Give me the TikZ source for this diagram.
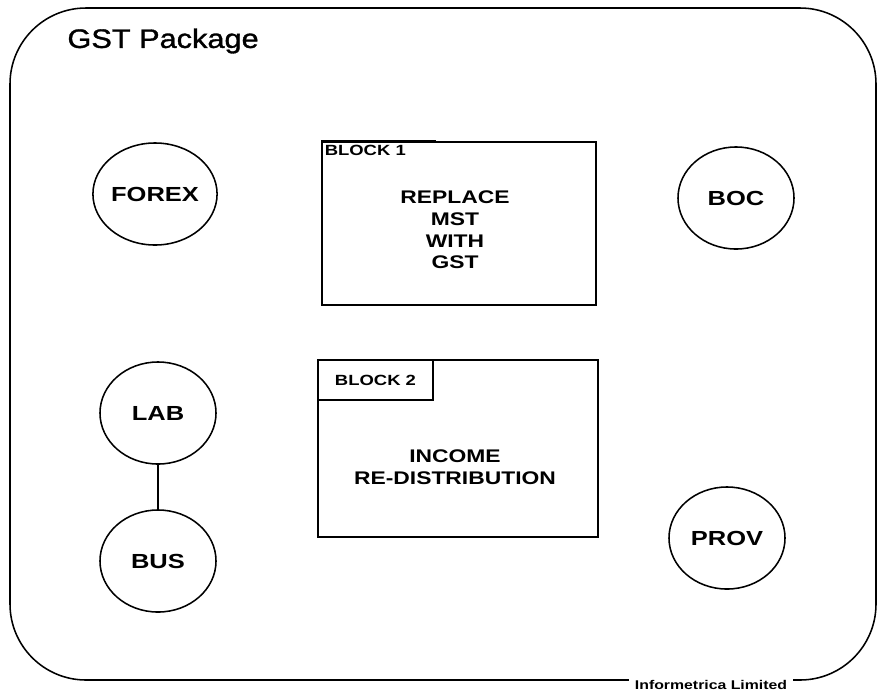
\documentclass[tikz,border=0pt]{standalone}
\usepackage{fontspec}
\setmainfont{Liberation Sans}
\newfontfamily\widefont[FakeStretch=1.25]{Liberation Sans}
\newfontfamily\titlefont[FakeStretch=1.15, FakeBold=1.2]{Liberation Sans}
\usetikzlibrary{shapes.geometric}
\usetikzlibrary{positioning}

\begin{document}
\begin{tikzpicture}[x=0.025cm, y=-0.025cm, line width=1.1pt,
    party/.style={ellipse, draw, minimum width=2.9cm, minimum height=2.55cm, inner sep=0pt,
      font=\widefont\bfseries\fontsize{14.5}{16}\selectfont},
    blockbox/.style={draw, rectangle, inner sep=0pt},
    blocktag/.style={inner sep=2pt, font=\widefont\bfseries\fontsize{10.5}{12}\selectfont},
    blocktext/.style={align=center, font=\widefont\bfseries\fontsize{13}{15.5}\selectfont}]
      \useasboundingbox (0,0) rectangle (880,693);
      \draw[rounded corners=1.9cm] (10,8) rectangle (876,680);
      \node[font=\titlefont\fontsize{19}{22}\selectfont, anchor=west] (title) at (62,41) {GST Package};
      \node[fill=white, inner xsep=4pt, inner ysep=1pt, font=\widefont\bfseries\fontsize{9}{10}\selectfont] (footer) at (711,685) {Informetrica Limited};

      \node[party] (forex) at (155,194) {FOREX};
      \node[party] (boc) at (736,198) {BOC};
      \node[party] (lab) at (158,413) {LAB};
      \node[party] (bus) at (158,561) {BUS};
      \node[party] (prov) at (727,538) {PROV};

      \node[blockbox, minimum width=6.85cm, minimum height=4.075cm] (block1) at (459,223.5) {};
      \node[blocktag, anchor=north west] (tag1) at (block1.north west) {BLOCK 1};
      \node[blocktext] (text1) at (455,230) {REPLACE\\MST\\WITH\\GST};
      \draw[line width=2pt] (block1.north west) -- ++(115,0);

      \node[blockbox, minimum width=7cm, minimum height=4.425cm] (block2) at (458,448.5) {};
      \node[blockbox, blocktag, anchor=north west, minimum width=2.875cm, minimum height=1cm] (tag2) at (block2.north west) {BLOCK 2};
      \node[blocktext] (text2) at (455,467) {INCOME\\RE-DISTRIBUTION};

      \draw (lab) -- (bus);
\end{tikzpicture}
\end{document}
